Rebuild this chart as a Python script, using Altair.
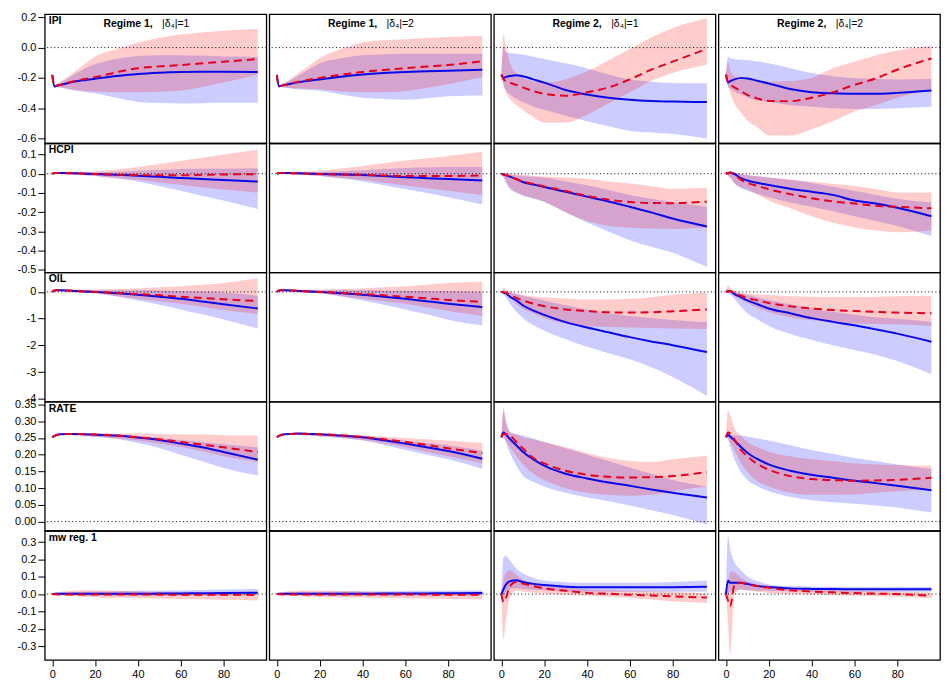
import altair as alt
import pandas as pd

T = [0, 1, 2, 4, 7, 10, 15, 20, 30, 40, 50, 60, 70, 80, 96]

ROW_NAMES = ["IPI", "HCPI", "OIL", "RATE", "mw reg. 1"]
COL_TITLES = [("Regime 1,", "|δ₄|=1"), ("Regime 1,", "|δ₄|=2"),
              ("Regime 2,", "|δ₄|=1"), ("Regime 2,", "|δ₄|=2")]

Y_DOMAINS = [[-0.632, 0.221], [-0.513, 0.158], [-4.1, 0.725], [-0.0275, 0.3585], [-0.38, 0.365]]
Y_TICKS = [[0.2, 0.0, -0.2, -0.4, -0.6],
           [0.1, 0.0, -0.1, -0.2, -0.3, -0.4, -0.5],
           [0, -1, -2, -3, -4],
           [0.35, 0.30, 0.25, 0.20, 0.15, 0.10, 0.05, 0.0],
           [0.3, 0.2, 0.1, 0.0, -0.1, -0.2, -0.3]]
Y_FORMATS = [".1f", ".1f", "d", ".2f", ".1f"]
X_TICKS = [0, 20, 40, 60, 80]

# ---------------- IPI ----------------
ipi1_b  = [-0.18,-0.257,-0.252,-0.245,-0.235,-0.226,-0.215,-0.206,-0.188,-0.174,-0.166,-0.161,-0.159,-0.159,-0.161]
ipi1_bl = [-0.18,-0.257,-0.26,-0.265,-0.275,-0.283,-0.293,-0.302,-0.332,-0.359,-0.366,-0.369,-0.367,-0.365,-0.365]
ipi1_bh = [-0.18,-0.257,-0.245,-0.23,-0.205,-0.18,-0.14,-0.11,-0.075,-0.055,-0.05,-0.05,-0.053,-0.058,-0.062]
ipi1_r  = [-0.18,-0.257,-0.252,-0.245,-0.233,-0.223,-0.208,-0.195,-0.163,-0.136,-0.124,-0.115,-0.104,-0.093,-0.076]
ipi1_rl = [-0.18,-0.257,-0.26,-0.262,-0.27,-0.276,-0.285,-0.29,-0.295,-0.295,-0.292,-0.284,-0.26,-0.231,-0.178]
ipi1_rh = [-0.18,-0.257,-0.24,-0.225,-0.195,-0.165,-0.11,-0.06,-0.01,0.034,0.065,0.087,0.10,0.111,0.124]

ipi2_b  = [-0.18,-0.257,-0.253,-0.246,-0.237,-0.229,-0.219,-0.21,-0.192,-0.178,-0.168,-0.161,-0.156,-0.153,-0.146]
ipi2_bl = [-0.18,-0.257,-0.26,-0.265,-0.27,-0.275,-0.28,-0.285,-0.31,-0.331,-0.34,-0.344,-0.335,-0.322,-0.316]
ipi2_bh = [-0.18,-0.257,-0.245,-0.232,-0.21,-0.185,-0.145,-0.104,-0.07,-0.051,-0.044,-0.04,-0.04,-0.04,-0.04]
ipi2_r  = [-0.18,-0.257,-0.252,-0.246,-0.235,-0.226,-0.212,-0.2,-0.18,-0.161,-0.148,-0.136,-0.125,-0.115,-0.089]
ipi2_rl = [-0.18,-0.257,-0.26,-0.263,-0.268,-0.27,-0.272,-0.275,-0.29,-0.295,-0.295,-0.287,-0.265,-0.242,-0.195]
ipi2_rh = [-0.18,-0.257,-0.243,-0.228,-0.2,-0.17,-0.12,-0.07,-0.01,0.034,0.048,0.055,0.063,0.07,0.076]

ipi3_b  = [-0.178,-0.2,-0.195,-0.188,-0.182,-0.189,-0.21,-0.231,-0.28,-0.31,-0.331,-0.344,-0.352,-0.356,-0.36]
ipi3_bl = [-0.178,-0.25,-0.28,-0.31,-0.34,-0.36,-0.39,-0.41,-0.45,-0.487,-0.52,-0.55,-0.56,-0.57,-0.60]
ipi3_bh = [-0.178,0.0,-0.03,-0.035,-0.04,-0.045,-0.06,-0.075,-0.104,-0.136,-0.178,-0.21,-0.225,-0.233,-0.235]
ipi3_r  = [-0.178,-0.21,-0.22,-0.231,-0.246,-0.263,-0.288,-0.305,-0.318,-0.295,-0.263,-0.21,-0.146,-0.093,-0.008]
ipi3_rl = [-0.178,-0.24,-0.29,-0.34,-0.38,-0.41,-0.46,-0.496,-0.496,-0.443,-0.369,-0.295,-0.22,-0.167,-0.114]
ipi3_rh = [-0.178,0.09,0.02,-0.1,-0.17,-0.2,-0.22,-0.23,-0.21,-0.157,-0.085,-0.008,0.066,0.13,0.194]

ipi4_b  = [-0.178,-0.231,-0.222,-0.21,-0.2,-0.204,-0.22,-0.237,-0.274,-0.295,-0.302,-0.305,-0.305,-0.299,-0.284]
ipi4_bl = [-0.178,-0.26,-0.27,-0.29,-0.31,-0.33,-0.35,-0.36,-0.38,-0.39,-0.40,-0.405,-0.405,-0.40,-0.39]
ipi4_bh = [-0.178,-0.06,-0.07,-0.076,-0.08,-0.082,-0.092,-0.104,-0.136,-0.167,-0.189,-0.2,-0.206,-0.21,-0.206]
ipi4_r  = [-0.178,-0.231,-0.245,-0.263,-0.288,-0.312,-0.337,-0.352,-0.354,-0.331,-0.295,-0.246,-0.204,-0.146,-0.072]
ipi4_rl = [-0.178,-0.25,-0.3,-0.37,-0.43,-0.48,-0.53,-0.581,-0.581,-0.539,-0.486,-0.422,-0.38,-0.331,-0.274]
ipi4_rh = [-0.178,-0.1,-0.15,-0.19,-0.2,-0.205,-0.215,-0.225,-0.22,-0.2,-0.136,-0.093,-0.05,-0.019,0.013]

# ---------------- HCPI ----------------
hcpi1_b  = [0,0.003,0.004,0.004,0.003,0.002,0.0,-0.002,-0.006,-0.01,-0.016,-0.022,-0.028,-0.033,-0.041]
hcpi1_bl = [0,0.002,0.002,0.0,-0.002,-0.004,-0.008,-0.012,-0.025,-0.04,-0.064,-0.089,-0.114,-0.139,-0.183]
hcpi1_bh = [0,0.005,0.006,0.007,0.007,0.007,0.007,0.007,0.01,0.015,0.02,0.025,0.026,0.026,0.028]
hcpi1_r  = [0,0.003,0.004,0.004,0.003,0.002,0.0,-0.002,-0.005,-0.007,-0.008,-0.008,-0.006,-0.004,-0.002]
hcpi1_rl = [0,0.002,0.002,0.0,-0.002,-0.004,-0.008,-0.012,-0.022,-0.032,-0.045,-0.057,-0.07,-0.082,-0.098]
hcpi1_rh = [0,0.005,0.006,0.007,0.008,0.009,0.01,0.012,0.022,0.035,0.05,0.067,0.083,0.10,0.125]

hcpi2_b  = [0,0.003,0.004,0.004,0.003,0.002,0.0,-0.002,-0.004,-0.007,-0.012,-0.018,-0.023,-0.028,-0.035]
hcpi2_bl = [0,0.002,0.002,0.0,-0.002,-0.004,-0.008,-0.012,-0.025,-0.04,-0.06,-0.08,-0.10,-0.122,-0.16]
hcpi2_bh = [0,0.005,0.006,0.007,0.007,0.007,0.008,0.009,0.013,0.018,0.025,0.03,0.033,0.035,0.035]
hcpi2_r  = [0,0.003,0.004,0.004,0.003,0.002,0.0,-0.002,-0.004,-0.006,-0.009,-0.012,-0.012,-0.012,-0.009]
hcpi2_rl = [0,0.002,0.002,0.0,-0.002,-0.004,-0.008,-0.012,-0.022,-0.032,-0.047,-0.061,-0.075,-0.089,-0.111]
hcpi2_rh = [0,0.005,0.006,0.007,0.008,0.01,0.012,0.015,0.027,0.04,0.054,0.068,0.08,0.092,0.114]

hcpi3_b  = [0,-0.004,-0.007,-0.015,-0.028,-0.043,-0.056,-0.069,-0.094,-0.119,-0.144,-0.172,-0.201,-0.233,-0.274]
hcpi3_bl = [0,-0.02,-0.045,-0.08,-0.1,-0.115,-0.13,-0.147,-0.2,-0.254,-0.3,-0.345,-0.38,-0.411,-0.485]
hcpi3_bh = [0,0.002,0.0,-0.004,-0.008,-0.012,-0.016,-0.02,-0.04,-0.06,-0.085,-0.11,-0.13,-0.147,-0.172]
hcpi3_r  = [0,-0.004,-0.007,-0.015,-0.028,-0.04,-0.053,-0.066,-0.09,-0.115,-0.135,-0.147,-0.152,-0.153,-0.145]
hcpi3_rl = [0,-0.015,-0.035,-0.07,-0.095,-0.11,-0.125,-0.145,-0.2,-0.245,-0.27,-0.279,-0.285,-0.287,-0.279]
hcpi3_rh = [0,0.003,0.002,0.0,-0.003,-0.006,-0.01,-0.014,-0.02,-0.026,-0.04,-0.051,-0.065,-0.078,-0.073]

hcpi4_b  = [0,0.004,0.005,-0.002,-0.023,-0.035,-0.048,-0.059,-0.078,-0.094,-0.11,-0.139,-0.155,-0.177,-0.221]
hcpi4_bl = [0,-0.01,-0.02,-0.05,-0.075,-0.089,-0.105,-0.122,-0.15,-0.172,-0.195,-0.221,-0.245,-0.271,-0.325]
hcpi4_bh = [0,0.008,0.01,0.006,0.0,-0.007,-0.013,-0.02,-0.033,-0.048,-0.068,-0.089,-0.11,-0.13,-0.15]
hcpi4_r  = [0,0.004,0.006,-0.005,-0.031,-0.048,-0.064,-0.081,-0.106,-0.127,-0.144,-0.155,-0.167,-0.172,-0.18]
hcpi4_rl = [0,-0.01,-0.02,-0.05,-0.07,-0.081,-0.11,-0.139,-0.18,-0.221,-0.255,-0.279,-0.295,-0.304,-0.295]
hcpi4_rh = [0,0.01,0.012,0.008,0.0,-0.007,-0.013,-0.02,-0.03,-0.04,-0.052,-0.064,-0.08,-0.097,-0.097]

# ---------------- OIL ----------------
oil1_b  = [0,0.05,0.06,0.06,0.05,0.036,0.015,0.0,-0.05,-0.107,-0.18,-0.26,-0.36,-0.464,-0.62]
oil1_bl = [0,0.03,0.04,0.04,0.03,0.01,-0.02,-0.05,-0.17,-0.32,-0.48,-0.655,-0.84,-1.036,-1.37]
oil1_bh = [0,0.07,0.08,0.08,0.075,0.07,0.065,0.06,0.06,0.06,0.05,0.036,0.01,-0.024,-0.143]
oil1_r  = [0,0.05,0.06,0.06,0.05,0.036,0.015,0.0,-0.04,-0.083,-0.13,-0.18,-0.23,-0.274,-0.345]
oil1_rl = [0,0.03,0.04,0.04,0.03,0.01,-0.02,-0.05,-0.15,-0.26,-0.35,-0.44,-0.56,-0.68,-0.82]
oil1_rh = [0,0.07,0.08,0.08,0.08,0.08,0.085,0.09,0.11,0.13,0.17,0.214,0.27,0.333,0.51]

oil2_b  = [0,0.05,0.06,0.06,0.05,0.036,0.015,0.0,-0.05,-0.107,-0.18,-0.26,-0.35,-0.44,-0.57]
oil2_bl = [0,0.03,0.04,0.04,0.03,0.01,-0.02,-0.05,-0.17,-0.32,-0.48,-0.655,-0.84,-1.04,-1.25]
oil2_bh = [0,0.07,0.08,0.08,0.075,0.07,0.065,0.06,0.06,0.06,0.05,0.04,0.03,0.02,0.0]
oil2_r  = [0,0.05,0.06,0.06,0.05,0.036,0.015,0.0,-0.04,-0.083,-0.13,-0.18,-0.24,-0.3,-0.37]
oil2_rl = [0,0.03,0.04,0.04,0.03,0.01,-0.02,-0.05,-0.15,-0.26,-0.35,-0.44,-0.57,-0.71,-0.89]
oil2_rh = [0,0.07,0.08,0.08,0.08,0.08,0.085,0.09,0.11,0.13,0.17,0.21,0.27,0.33,0.39]

oil3_b  = [0,-0.03,-0.06,-0.18,-0.32,-0.5,-0.7,-0.857,-1.13,-1.33,-1.51,-1.69,-1.85,-1.99,-2.25]
oil3_bl = [0,-0.1,-0.2,-0.44,-0.74,-0.976,-1.25,-1.45,-1.77,-2.05,-2.29,-2.52,-2.82,-3.18,-3.89]
oil3_bh = [0,0.05,0.01,-0.02,-0.08,-0.14,-0.23,-0.32,-0.5,-0.655,-0.8,-0.9,-0.98,-1.05,-1.13]
oil3_r  = [0,-0.01,-0.03,-0.107,-0.226,-0.32,-0.44,-0.536,-0.655,-0.714,-0.76,-0.774,-0.76,-0.726,-0.655]
oil3_rl = [0,-0.05,-0.08,-0.2,-0.44,-0.62,-0.8,-0.976,-1.18,-1.27,-1.31,-1.33,-1.35,-1.37,-1.39]
oil3_rh = [0,0.155,0.1,0.01,-0.06,-0.12,-0.17,-0.2,-0.26,-0.286,-0.286,-0.26,-0.2,-0.107,-0.024]

oil4_b  = [0,0.02,0.02,-0.08,-0.2,-0.32,-0.47,-0.62,-0.8,-0.98,-1.12,-1.25,-1.4,-1.56,-1.86]
oil4_bl = [0,-0.05,-0.1,-0.26,-0.56,-0.8,-1.04,-1.27,-1.57,-1.8,-1.99,-2.17,-2.35,-2.58,-3.08]
oil4_bh = [0,0.1,0.06,0.0,-0.06,-0.12,-0.21,-0.3,-0.46,-0.62,-0.74,-0.857,-0.95,-1.0,-1.12]
oil4_r  = [0,0.02,0.03,-0.05,-0.14,-0.226,-0.32,-0.417,-0.536,-0.62,-0.68,-0.714,-0.75,-0.774,-0.8]
oil4_rl = [0,-0.02,-0.05,-0.15,-0.3,-0.42,-0.6,-0.75,-0.95,-1.06,-1.13,-1.17,-1.2,-1.22,-1.27]
oil4_rh = [0,0.25,0.15,0.05,-0.03,-0.06,-0.1,-0.12,-0.16,-0.18,-0.19,-0.19,-0.18,-0.16,-0.143]

# ---------------- RATE ----------------
rate1_b  = [0.252,0.256,0.259,0.261,0.262,0.262,0.261,0.26,0.257,0.251,0.244,0.233,0.222,0.208,0.185]
rate1_bl = [0.252,0.256,0.258,0.259,0.259,0.258,0.255,0.253,0.247,0.235,0.22,0.2,0.18,0.16,0.138]
rate1_bh = [0.252,0.256,0.26,0.262,0.263,0.263,0.263,0.262,0.259,0.255,0.25,0.244,0.238,0.231,0.222]
rate1_r  = [0.252,0.256,0.259,0.261,0.262,0.262,0.261,0.26,0.257,0.252,0.246,0.238,0.23,0.222,0.208]
rate1_rl = [0.252,0.256,0.258,0.259,0.259,0.258,0.256,0.254,0.248,0.242,0.233,0.223,0.21,0.195,0.178]
rate1_rh = [0.252,0.256,0.26,0.262,0.263,0.264,0.264,0.264,0.263,0.263,0.262,0.261,0.26,0.258,0.257]

rate2_b  = [0.252,0.256,0.259,0.261,0.262,0.263,0.262,0.261,0.257,0.252,0.243,0.233,0.222,0.211,0.188]
rate2_bl = [0.252,0.256,0.258,0.259,0.259,0.259,0.257,0.255,0.25,0.242,0.229,0.214,0.2,0.186,0.157]
rate2_bh = [0.252,0.256,0.26,0.262,0.263,0.264,0.264,0.263,0.259,0.254,0.249,0.242,0.235,0.228,0.212]
rate2_r  = [0.252,0.256,0.259,0.261,0.262,0.263,0.262,0.261,0.258,0.253,0.246,0.238,0.229,0.219,0.205]
rate2_rl = [0.252,0.256,0.258,0.259,0.259,0.259,0.257,0.255,0.25,0.244,0.234,0.222,0.208,0.195,0.174]
rate2_rh = [0.252,0.256,0.26,0.262,0.263,0.264,0.264,0.264,0.261,0.257,0.254,0.25,0.246,0.242,0.235]

rate3_b  = [0.252,0.266,0.261,0.247,0.228,0.209,0.186,0.167,0.143,0.129,0.117,0.107,0.096,0.086,0.072]
rate3_bl = [0.252,0.255,0.238,0.205,0.167,0.138,0.119,0.105,0.086,0.072,0.061,0.048,0.034,0.02,-0.009]
rate3_bh = [0.252,0.328,0.3,0.268,0.261,0.257,0.248,0.238,0.219,0.2,0.181,0.162,0.143,0.124,0.105]
rate3_r  = [0.252,0.262,0.262,0.257,0.238,0.219,0.19,0.174,0.152,0.14,0.134,0.132,0.133,0.136,0.148]
rate3_rl = [0.252,0.25,0.243,0.223,0.195,0.171,0.143,0.124,0.1,0.086,0.08,0.077,0.08,0.091,0.105]
rate3_rh = [0.252,0.342,0.309,0.268,0.262,0.252,0.245,0.238,0.222,0.205,0.19,0.181,0.178,0.186,0.197]

rate4_b  = [0.252,0.259,0.254,0.242,0.223,0.206,0.186,0.171,0.152,0.14,0.131,0.122,0.115,0.107,0.094]
rate4_bl = [0.252,0.245,0.223,0.186,0.148,0.124,0.105,0.091,0.074,0.064,0.058,0.053,0.048,0.042,0.027]
rate4_bh = [0.252,0.262,0.26,0.257,0.257,0.254,0.248,0.242,0.228,0.214,0.202,0.19,0.181,0.171,0.157]
rate4_r  = [0.252,0.266,0.263,0.245,0.214,0.195,0.171,0.155,0.136,0.127,0.124,0.122,0.123,0.125,0.131]
rate4_rl = [0.252,0.25,0.237,0.214,0.176,0.148,0.119,0.105,0.086,0.08,0.08,0.081,0.086,0.091,0.096]
rate4_rh = [0.252,0.332,0.318,0.28,0.257,0.238,0.222,0.209,0.195,0.186,0.18,0.174,0.171,0.169,0.167]

# ---------------- mw reg. 1 ----------------
mw1_b  = [0,0.002,0.002,0.002,0.002,0.002,0.002,0.002,0.002,0.002,0.003,0.004,0.005,0.006,0.008]
mw1_bl = [0,-0.002,-0.004,-0.005,-0.007,-0.008,-0.009,-0.009,-0.009,-0.009,-0.009,-0.009,-0.008,-0.008,-0.007]
mw1_bh = [0,0.004,0.006,0.008,0.01,0.012,0.014,0.015,0.017,0.019,0.02,0.022,0.024,0.026,0.03]
mw1_r  = [0,-0.001,-0.002,-0.003,-0.003,-0.003,-0.003,-0.003,-0.003,-0.003,-0.003,-0.004,-0.004,-0.004,-0.005]
mw1_rl = [0,-0.004,-0.006,-0.008,-0.01,-0.012,-0.016,-0.019,-0.021,-0.022,-0.025,-0.028,-0.03,-0.033,-0.037]
mw1_rh = [0,0.005,0.01,0.014,0.018,0.021,0.022,0.022,0.019,0.015,0.012,0.009,0.007,0.006,0.005]

mw2_b  = [0,0.002,0.002,0.002,0.002,0.002,0.002,0.002,0.002,0.002,0.003,0.003,0.004,0.005,0.006]
mw2_bl = [0,-0.002,-0.004,-0.005,-0.007,-0.008,-0.009,-0.009,-0.009,-0.009,-0.009,-0.009,-0.008,-0.008,-0.007]
mw2_bh = [0,0.004,0.006,0.008,0.01,0.012,0.013,0.014,0.015,0.016,0.017,0.018,0.019,0.02,0.022]
mw2_r  = [0,-0.001,-0.002,-0.003,-0.003,-0.003,-0.003,-0.003,-0.003,-0.003,-0.003,-0.003,-0.003,-0.004,-0.004]
mw2_rl = [0,-0.004,-0.006,-0.008,-0.01,-0.012,-0.015,-0.017,-0.019,-0.02,-0.022,-0.024,-0.026,-0.028,-0.03]
mw2_rh = [0,0.005,0.01,0.014,0.018,0.02,0.021,0.021,0.018,0.014,0.011,0.009,0.007,0.006,0.005]

mw3_b  = [0,0.028,0.052,0.074,0.08,0.07,0.059,0.052,0.043,0.039,0.039,0.039,0.039,0.04,0.043]
mw3_bl = [0,-0.01,0.009,0.028,0.033,0.028,0.025,0.022,0.015,0.013,0.013,0.013,0.013,0.013,0.015]
mw3_bh = [0,0.213,0.219,0.194,0.148,0.12,0.093,0.078,0.069,0.065,0.065,0.065,0.067,0.07,0.078]
mw3_r  = [0,-0.046,-0.028,0.046,0.07,0.061,0.046,0.033,0.019,0.007,0.002,-0.004,-0.008,-0.013,-0.02]
mw3_rl = [0,-0.26,-0.167,-0.019,0.019,0.015,0.008,0.004,-0.004,-0.009,-0.015,-0.022,-0.031,-0.041,-0.052]
mw3_rh = [0,0.074,0.12,0.139,0.111,0.083,0.065,0.052,0.037,0.028,0.023,0.019,0.016,0.013,0.004]

mw4_b  = [0,0.078,0.065,0.065,0.065,0.059,0.046,0.041,0.033,0.03,0.029,0.028,0.028,0.028,0.028]
mw4_bl = [0,0.0,0.015,0.022,0.025,0.022,0.02,0.019,0.015,0.013,0.013,0.013,0.013,0.013,0.013]
mw4_bh = [0,0.333,0.259,0.185,0.139,0.102,0.074,0.056,0.046,0.043,0.042,0.041,0.041,0.041,0.041]
mw4_r  = [0,-0.037,-0.07,0.052,0.065,0.056,0.046,0.037,0.022,0.015,0.01,0.006,0.003,0.0,-0.009]
mw4_rl = [0,-0.167,-0.352,0.0,0.028,0.022,0.013,0.007,0.0,-0.003,-0.006,-0.009,-0.012,-0.015,-0.024]
mw4_rh = [0,0.05,0.13,0.126,0.093,0.074,0.056,0.046,0.033,0.028,0.023,0.019,0.017,0.015,0.009]

PANELS = [
    [(ipi1_b, ipi1_bl, ipi1_bh, ipi1_r, ipi1_rl, ipi1_rh),
     (ipi2_b, ipi2_bl, ipi2_bh, ipi2_r, ipi2_rl, ipi2_rh),
     (ipi3_b, ipi3_bl, ipi3_bh, ipi3_r, ipi3_rl, ipi3_rh),
     (ipi4_b, ipi4_bl, ipi4_bh, ipi4_r, ipi4_rl, ipi4_rh)],
    [(hcpi1_b, hcpi1_bl, hcpi1_bh, hcpi1_r, hcpi1_rl, hcpi1_rh),
     (hcpi2_b, hcpi2_bl, hcpi2_bh, hcpi2_r, hcpi2_rl, hcpi2_rh),
     (hcpi3_b, hcpi3_bl, hcpi3_bh, hcpi3_r, hcpi3_rl, hcpi3_rh),
     (hcpi4_b, hcpi4_bl, hcpi4_bh, hcpi4_r, hcpi4_rl, hcpi4_rh)],
    [(oil1_b, oil1_bl, oil1_bh, oil1_r, oil1_rl, oil1_rh),
     (oil2_b, oil2_bl, oil2_bh, oil2_r, oil2_rl, oil2_rh),
     (oil3_b, oil3_bl, oil3_bh, oil3_r, oil3_rl, oil3_rh),
     (oil4_b, oil4_bl, oil4_bh, oil4_r, oil4_rl, oil4_rh)],
    [(rate1_b, rate1_bl, rate1_bh, rate1_r, rate1_rl, rate1_rh),
     (rate2_b, rate2_bl, rate2_bh, rate2_r, rate2_rl, rate2_rh),
     (rate3_b, rate3_bl, rate3_bh, rate3_r, rate3_rl, rate3_rh),
     (rate4_b, rate4_bl, rate4_bh, rate4_r, rate4_rl, rate4_rh)],
    [(mw1_b, mw1_bl, mw1_bh, mw1_r, mw1_rl, mw1_rh),
     (mw2_b, mw2_bl, mw2_bh, mw2_r, mw2_rl, mw2_rh),
     (mw3_b, mw3_bl, mw3_bh, mw3_r, mw3_rl, mw3_rh),
     (mw4_b, mw4_bl, mw4_bh, mw4_r, mw4_rl, mw4_rh)],
]

PANEL_W = 223
PANEL_H = 130
FONT = "Liberation Sans"
BLUE_LINE = "#0A0AE8"
RED_LINE = "#E6001F"


def y_axis(ri):
    f = Y_FORMATS[ri]
    return alt.Axis(
        values=Y_TICKS[ri],
        labelExpr=f"datum.value < 0 ? '-' + format(-datum.value, '{f}') : format(datum.value, '{f}')",
        domain=False, grid=False, ticks=True, tickSize=7, tickColor="black", tickWidth=1,
        labelPadding=2, labelFont=FONT, labelFontSize=11, labelColor="black",
        labelOverlap=False,
    )


def x_axis():
    return alt.Axis(
        values=X_TICKS, format="d", domain=False, grid=False, ticks=True, tickSize=6,
        tickColor="black", tickWidth=1, labelPadding=3, labelFont=FONT, labelFontSize=11,
        labelColor="black", labelFlush=False, labelOverlap=False,
    )


def text_layer(s, x, y, bold):
    return alt.Chart(pd.DataFrame({"s": [s]})).mark_text(
        align="left", baseline="alphabetic", font=FONT, fontSize=10.5,
        fontWeight="bold" if bold else "normal", color="black",
    ).encode(text="s:N", x=alt.value(x), y=alt.value(y))


def panel(ri, ci):
    b, bl, bh, r, rl, rh = PANELS[ri][ci]
    df = pd.DataFrame({"t": T, "b": b, "bl": bl, "bh": bh, "r": r, "rl": rl, "rh": rh})
    xs = alt.Scale(domain=[-3.5, 100], nice=False, zero=False)
    ys = alt.Scale(domain=Y_DOMAINS[ri], nice=False, zero=False)
    xa = x_axis() if ri == 4 else None
    ya = y_axis(ri) if ci == 0 else None

    def X():
        return alt.X("t:Q", scale=xs, axis=xa, title=None)

    def Y(field):
        return alt.Y(field, scale=ys, axis=ya, title=None)

    base = alt.Chart(df)
    band_b = base.mark_area(color="#0000FF", opacity=0.2, interpolate="monotone", clip=True).encode(
        x=X(), y=Y("bl:Q"), y2="bh:Q")
    band_r = base.mark_area(color="#FF0000", opacity=0.2, interpolate="monotone", clip=True).encode(
        x=X(), y=Y("rl:Q"), y2="rh:Q")
    zero = alt.Chart(pd.DataFrame({"z": [0]})).mark_rule(
        color="black", strokeDash=[1, 2.6], strokeWidth=1).encode(y=Y("z:Q"))
    line_b = base.mark_line(color=BLUE_LINE, strokeWidth=2, interpolate="monotone", clip=True).encode(
        x=X(), y=Y("b:Q"))
    line_r = base.mark_line(color=RED_LINE, strokeWidth=2, strokeDash=[8, 5],
                            interpolate="monotone", clip=True).encode(x=X(), y=Y("r:Q"))
    layers = [band_b, band_r, zero, line_b, line_r]
    if ci == 0:
        layers.append(text_layer(ROW_NAMES[ri], 4, 10, True))
    if ri == 0:
        t1, t2 = COL_TITLES[ci]
        layers.append(text_layer(t1, 59, 12.5, True))
        layers.append(text_layer(t2, 118, 12.5, False))
    return alt.layer(*layers).properties(width=PANEL_W, height=PANEL_H)


panels = [panel(ri, ci) for ri in range(5) for ci in range(4)]

chart = alt.concat(
    *panels, columns=4, spacing={"row": 0, "column": 3}, bounds="flush"
).properties(
    padding={"left": 5, "top": 0, "right": 0, "bottom": 0},
    background="white",
).configure_view(
    stroke="black", strokeWidth=1.3
)

chart.save("out.html", embed_options={"renderer": "svg", "actions": False})
